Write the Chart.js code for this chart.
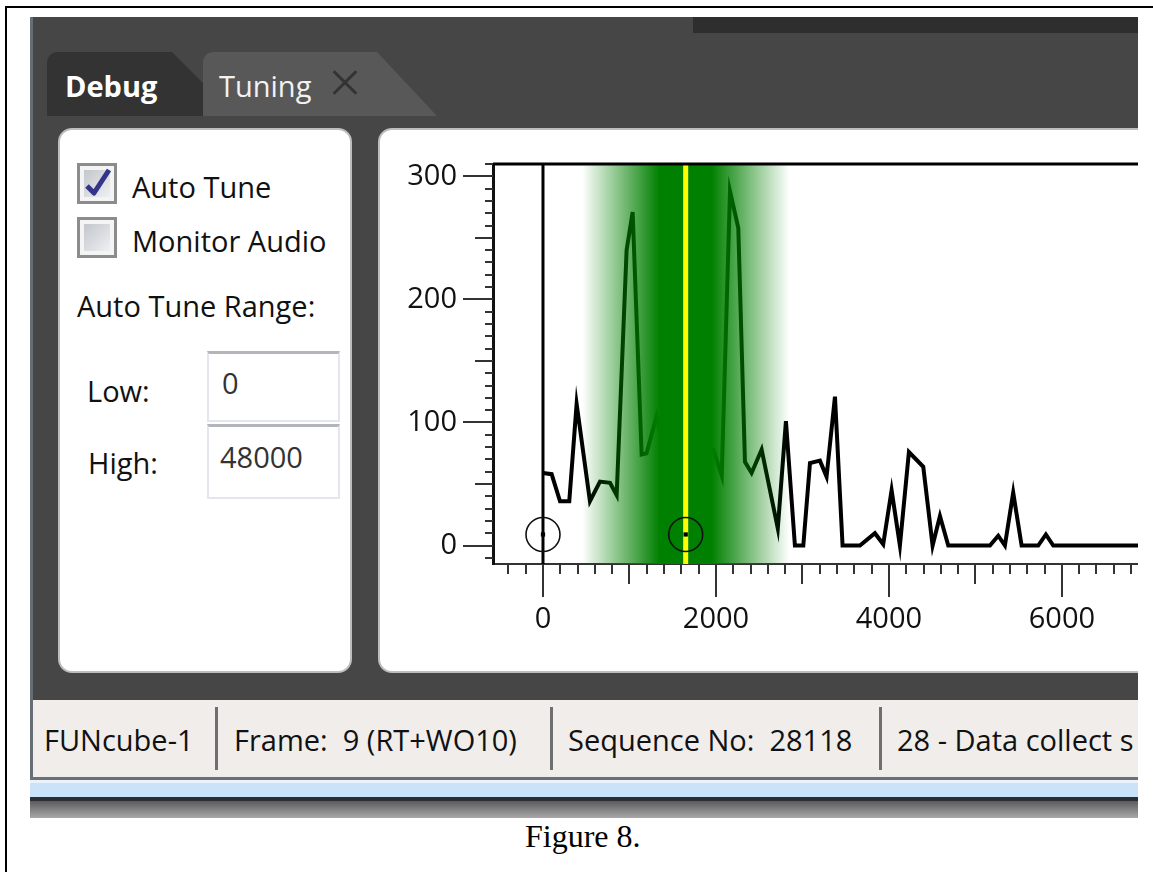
<!DOCTYPE html>
<html>
<head>
<meta charset="utf-8">
<script src="https://cdn.jsdelivr.net/npm/chart.js@4.4.1/dist/chart.umd.min.js"></script>
<style>
  html, body { margin: 0; padding: 0; background: #fff; }
  body { width: 1153px; height: 872px; position: relative; overflow: hidden; font-family: "Open Sans", sans-serif; }
  .abs { position: absolute; }
  .txt { position: absolute; font-size: 29px; line-height: 30px; white-space: pre; color: #111; }
  #frameL { left: 5px; top: 6px; width: 2px; height: 880px; background: #000; }
  #frameT { left: 5px; top: 6px; width: 1160px; height: 2px; background: #000; }
  #shot { left: 30px; top: 17px; width: 1108px; height: 801px; overflow: hidden; background: #464646; }
  .panel { position: absolute; box-sizing: border-box; background: #fff; border: 2px solid #bdbdbd; border-radius: 14px; }
  .check { position: absolute; box-sizing: border-box; width: 40px; height: 41px; border: 3px solid #8c8c8c; background: #f4f4f4; }
  .check i { position: absolute; left: 4px; top: 4px; width: 26px; height: 27px; background: linear-gradient(135deg, #c3c6cb, #eef0f2); }
  .box { position: absolute; box-sizing: border-box; width: 133px; background: #fff; border: 2px solid #e3e6ee; border-top: 3px solid #b4b4bb; }
  .sep { position: absolute; top: 7px; width: 3px; height: 63px; background: #6f6f6f; }
</style>
</head>
<body>
<div id="frameL" class="abs"></div>
<div id="frameT" class="abs"></div>

<div id="shot" class="abs">
  <div class="abs" style="left:0;top:0;width:3px;height:763px;background:#656d76"></div>
  <div class="abs" style="left:663px;top:0;width:445px;height:16px;background:#2e2e2e"></div>

  <div class="abs" style="left:17px;top:35px;width:156px;height:64px;background:#333;border-top-left-radius:10px;clip-path:polygon(0 0,125px 0,156px 31px,156px 64px,0 64px)">
    <div class="txt" style="left:18px;top:19px;color:#fff;font-weight:bold">Debug</div>
  </div>
  <div class="abs" style="left:173px;top:35px;width:234px;height:64px;background:#585858;border-top-left-radius:10px;clip-path:polygon(0 0,174px 0,234px 64px,0 64px)">
    <div class="txt" style="left:16px;top:19px;color:#f2f2f2">Tuning</div>
    <div class="abs" style="left:126px;top:29px;width:32px;height:3px;background:#333;transform:rotate(45deg)"></div>
    <div class="abs" style="left:126px;top:29px;width:32px;height:3px;background:#333;transform:rotate(-45deg)"></div>
  </div>

  <div class="panel" style="left:28px;top:111px;width:294px;height:545px">
    <div class="check" style="left:17px;top:33px"><i></i>
      <svg class="abs" style="left:3px;top:1px" width="30" height="33" viewBox="0 0 30 33">
        <path d="M4 19 L11 26 L26 3" fill="none" stroke="#34348a" stroke-width="5" stroke-linejoin="round"/>
      </svg>
    </div>
    <div class="txt" style="left:72px;top:42px">Auto Tune</div>
    <div class="check" style="left:17px;top:87px"><i></i></div>
    <div class="txt" style="left:72px;top:96px">Monitor Audio</div>
    <div class="txt" style="left:17px;top:161px">Auto Tune Range:</div>
    <div class="txt" style="left:27px;top:246px">Low:</div>
    <div class="txt" style="left:28px;top:318px">High:</div>
    <div class="box" style="left:147px;top:221px;height:71px">
      <div class="txt" style="left:13px;top:14px;color:#333">0</div>
    </div>
    <div class="box" style="left:147px;top:294px;height:75px">
      <div class="txt" style="left:11px;top:15px;color:#333">48000</div>
    </div>
  </div>

  <div class="panel" style="left:348px;top:111px;width:830px;height:545px"></div>
  <canvas id="tuningChart" class="abs" style="left:350px;top:113px" width="758" height="540"></canvas>

  <div class="abs" style="left:3px;top:683px;width:1105px;height:77px;background:#f0edeb">
    <div class="txt" style="left:11px;top:25px">FUNcube-1</div>
    <div class="sep" style="left:182px"></div>
    <div class="txt" style="left:201px;top:25px">Frame:  9 (RT+WO10)</div>
    <div class="sep" style="left:517px"></div>
    <div class="txt" style="left:535px;top:25px">Sequence No:  28118</div>
    <div class="sep" style="left:846px"></div>
    <div class="txt" style="left:864px;top:25px">28 - Data collect s</div>
  </div>
  <div class="abs" style="left:0;top:760px;width:1108px;height:3px;background:#6b7076"></div>
  <div class="abs" style="left:0;top:763px;width:1108px;height:3px;background:#eaf3fc"></div>
  <div class="abs" style="left:0;top:766px;width:1108px;height:14px;background:#cbe3f9"></div>
  <div class="abs" style="left:0;top:780px;width:1108px;height:4px;background:#2b2f33"></div>
  <div class="abs" style="left:0;top:784px;width:1108px;height:17px;background:linear-gradient(#5c5c5c,#a8a8a8)"></div>
</div>

<div class="abs" style="left:525px;top:820px;font-family:'Liberation Serif',serif;font-size:32px;line-height:32px;color:#000">Figure 8.</div>

<script>
// spectrum (Hz, level)
const freqHz = [0, 100, 197, 304, 389, 543, 659, 775, 852, 967, 1037, 1141, 1198, 1314,
  1430, 1540, 1650, 1760, 1870, 1969, 2066, 2162, 2258, 2335, 2412, 2528, 2715, 2809,
  2913, 3010, 3087, 3202, 3279, 3376, 3464, 3665, 3838, 3934, 4031, 4127, 4231, 4397,
  4505, 4590, 4686, 5168, 5264, 5341, 5437, 5534, 5726, 5815, 5900, 6880];
const level = [59, 58, 36, 36, 115, 36, 52, 51, 41, 240, 271, 74, 75, 105,
  70, 40, 25, 45, 80, 78, 57, 288, 258, 68, 59, 78, 14, 101,
  0, 0, 67, 69, 56, 121, 0, 0, 10, 1, 45, 0, 76, 64,
  0, 24, 0, 0, 8, 0, 43, 0, 0, 9, 0, 0];

// cursor circles and tuning band
const markerHz = [0, 1650];
const markerLevel = [9, 9];
const tunedHz = 1650;
const bandCoreHz = 300;
const bandFadeHz = 1200;

const xTickValues = [0, 2000, 4000, 6000];
const yTickValues = [0, 100, 200, 300];

const toPoints = (xs, ys) => xs.map((x, i) => ({ x, y: ys[i] }));
const labelFont = { family: "'Open Sans', sans-serif", size: 29 };

const tuningBand = {
  id: "tuningBand",
  beforeDatasetsDraw(chart) {
    const { ctx, chartArea: a, scales: { x } } = chart;
    const px = x.getPixelForValue(0);
    ctx.save();
    ctx.strokeStyle = "#000";
    ctx.lineWidth = 3;
    ctx.beginPath();
    ctx.moveTo(px, a.top);
    ctx.lineTo(px, a.bottom);
    ctx.stroke();
    ctx.restore();
  },
  afterDatasetDraw(chart, args) {
    if (args.index !== 0) return;
    const { ctx, chartArea: a, scales: { x } } = chart;
    const left = x.getPixelForValue(tunedHz - bandFadeHz);
    const right = x.getPixelForValue(tunedHz + bandFadeHz);
    const coreL = x.getPixelForValue(tunedHz - bandCoreHz);
    const coreR = x.getPixelForValue(tunedHz + bandCoreHz);
    const w = right - left;
    const grad = ctx.createLinearGradient(left, 0, right, 0);
    grad.addColorStop(0, "rgba(0,128,0,0)");
    grad.addColorStop((coreL - left) / w, "rgba(0,128,0,1)");
    grad.addColorStop((coreR - left) / w, "rgba(0,128,0,1)");
    grad.addColorStop(1, "rgba(0,128,0,0)");
    ctx.save();
    ctx.fillStyle = grad;
    ctx.fillRect(left, a.top, w, a.bottom - a.top);
    const ty = x.getPixelForValue(tunedHz);
    ctx.fillStyle = "#ffff00";
    ctx.fillRect(ty - 2.5, a.top, 5, a.bottom - a.top);
    ctx.restore();
  },
  afterDraw(chart) {
    const { ctx, chartArea: a, scales: { x, y } } = chart;
    ctx.save();
    ctx.strokeStyle = "#333";
    ctx.lineWidth = 2;
    ctx.beginPath();
    for (let v = -10; v <= 310; v += 10) {
      const py = Math.round(y.getPixelForValue(v));
      const len = v % 100 === 0 ? 30 : v % 50 === 0 ? 18 : 8;
      ctx.moveTo(a.left - len, py);
      ctx.lineTo(a.left, py);
    }
    for (let v = -400; v <= 6800; v += 200) {
      const px = Math.round(x.getPixelForValue(v));
      const len = v % 2000 === 0 ? 33 : v % 1000 === 0 ? 20 : 10;
      ctx.moveTo(px, a.bottom);
      ctx.lineTo(px, a.bottom + len);
    }
    ctx.stroke();
    ctx.strokeStyle = "#000";
    ctx.lineWidth = 3;
    ctx.beginPath();
    ctx.moveTo(a.left, a.top);
    ctx.lineTo(a.right, a.top);
    ctx.stroke();
    ctx.restore();
  }
};

new Chart(document.getElementById("tuningChart"), {
  type: "scatter",
  data: {
    datasets: [
      {
        data: toPoints(freqHz, level),
        showLine: true,
        borderColor: "#000",
        borderWidth: 4,
        pointRadius: 0,
        tension: 0,
        order: 2
      },
      {
        data: toPoints(markerHz, markerLevel),
        pointRadius: 17,
        pointBorderWidth: 1.6,
        pointBorderColor: "#111",
        pointBackgroundColor: "rgba(0,0,0,0)",
        order: 1
      },
      {
        data: toPoints(markerHz, markerLevel),
        pointStyle: "rect",
        pointRadius: 3,
        pointBorderWidth: 0,
        pointBackgroundColor: "#000",
        order: 0
      }
    ]
  },
  options: {
    responsive: false,
    animation: false,
    devicePixelRatio: 1,
    events: [],
    layout: { autoPadding: false, padding: { top: 34, left: 0, right: 0, bottom: 0 } },
    plugins: { legend: { display: false }, tooltip: { enabled: false } },
    scales: {
      x: {
        type: "linear",
        min: -578,
        max: 6880,
        bounds: "data",
        afterBuildTicks: (s) => { s.ticks = xTickValues.map((value) => ({ value })); },
        afterFit: (s) => { s.height = 106; s.paddingLeft = 0; s.paddingRight = 0; },
        grid: { drawOnChartArea: false, drawTicks: false },
        border: { color: "#333", width: 2 },
        ticks: { padding: 38, color: "#111", font: labelFont, autoSkip: false, maxRotation: 0, callback: (v) => String(v) }
      },
      y: {
        type: "linear",
        min: -15,
        max: 310,
        bounds: "data",
        afterBuildTicks: (s) => { s.ticks = yTickValues.map((value) => ({ value })); },
        afterFit: (s) => { s.width = 113; s.paddingTop = 0; s.paddingBottom = 0; },
        grid: { drawOnChartArea: false, drawTicks: false },
        border: { color: "#111", width: 3 },
        ticks: { padding: 36, color: "#111", font: labelFont, autoSkip: false, callback: (v) => String(v) }
      }
    }
  },
  plugins: [tuningBand]
});
</script>
</body>
</html>
